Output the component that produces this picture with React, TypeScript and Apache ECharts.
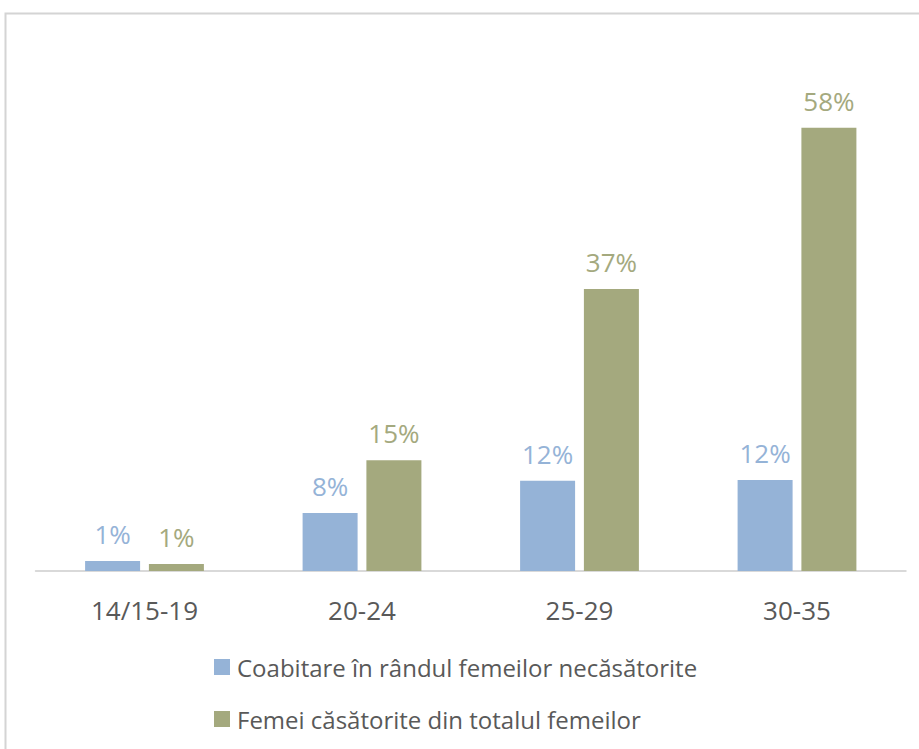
import React, { useEffect, useRef } from "react";
import * as echarts from "echarts";

const categories = ["14/15-19", "20-24", "25-29", "30-35"];
const seriesNames = [
  "Coabitare în rândul femeilor necăsătorite",
  "Femei căsătorite din totalul femeilor",
];
const cohabitingValues = [1.3, 7.6, 11.8, 11.9];
const marriedValues = [0.9, 14.5, 36.9, 58.0];

const BLUE = "#95b3d7";
const GREEN = "#a4a97e";
const FONT = "'Open Sans', 'Noto Sans', sans-serif";

export default function App() {
  const ref = useRef<HTMLDivElement>(null);
  useEffect(() => {
    if (!ref.current) return;
    const chart = echarts.init(ref.current, undefined, { renderer: "svg" });
    const labelFmt = (p: any) => Math.round(p.value) + "%";
    chart.setOption({
      animation: false,
      backgroundColor: "#ffffff",
      textStyle: { fontFamily: FONT },
      graphic: [
        {
          type: "rect",
          shape: { x: 5.5, y: 13.5, width: 1000, height: 1000 },
          style: { fill: "none", stroke: "#d4d4d4", lineWidth: 2 },
          silent: true,
        },
      ],
      grid: { left: 35.75, right: 13.25, top: 36, bottom: 178, containLabel: false },
      xAxis: {
        type: "category",
        data: categories,
        axisLine: { show: true, lineStyle: { color: "#d9d9d9", width: 2 } },
        axisTick: { show: false },
        axisLabel: {
          color: "#595959",
          fontSize: 26,
          fontFamily: FONT,
          margin: 26,
        },
      },
      yAxis: {
        type: "value",
        min: 0,
        max: 70,
        show: false,
        splitLine: { show: false },
      },
      legend: {
        orient: "vertical",
        left: 209,
        top: 647,
        itemWidth: 16,
        itemHeight: 16,
        itemGap: 22,
        icon: "rect",
        textStyle: {
          color: "#595959",
          fontSize: 24,
          fontFamily: FONT,
          lineHeight: 30,
          padding: [0, 0, 0, 2],
        },
        data: seriesNames,
      },
      series: [
        {
          name: seriesNames[0],
          type: "bar",
          data: cohabitingValues,
          barWidth: 55,
          barGap: "16%",
          itemStyle: { color: BLUE },
          label: {
            show: true,
            position: "top",
            distance: 14,
            color: BLUE,
            fontSize: 26,
            fontFamily: FONT,
            formatter: labelFmt,
          },
        },
        {
          name: seriesNames[1],
          type: "bar",
          data: marriedValues,
          barWidth: 55,
          barGap: "16%",
          itemStyle: { color: GREEN },
          label: {
            show: true,
            position: "top",
            distance: 14,
            color: GREEN,
            fontSize: 26,
            fontFamily: FONT,
            formatter: labelFmt,
          },
        },
      ],
    });
    return () => chart.dispose();
  }, []);
  return (
    <div
      ref={ref}
      style={{ position: "absolute", left: 0, top: 0, width: 919, height: 749 }}
    />
  );
}
